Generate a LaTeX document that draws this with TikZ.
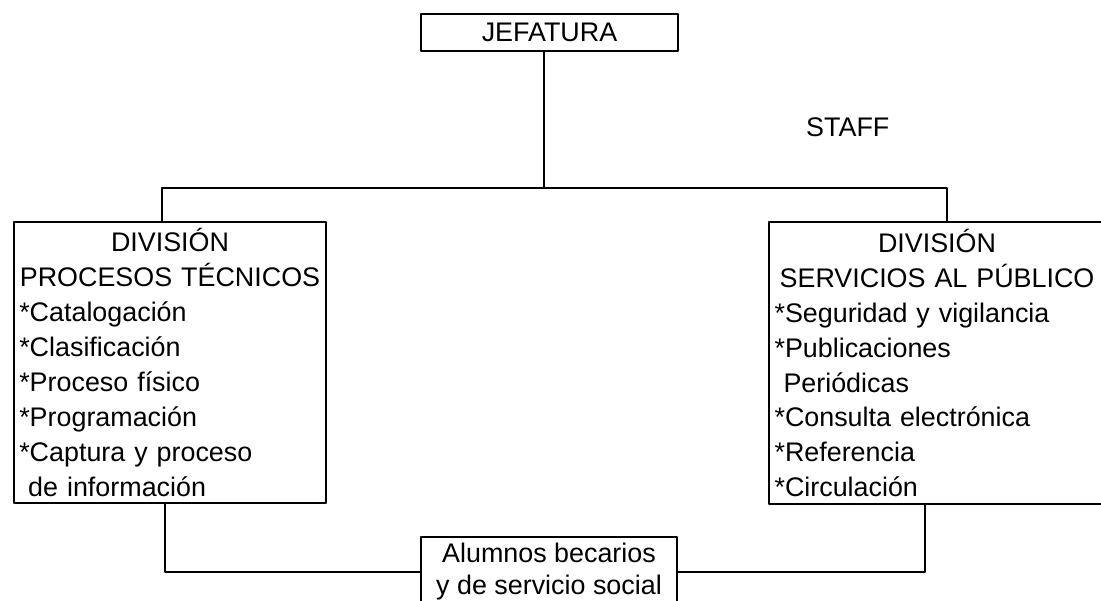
\documentclass[tikz,border=0pt]{standalone}
\usepackage{fontspec}
\setmainfont{Liberation Sans}
\begin{document}
\begin{tikzpicture}[x=0.02cm,y=-0.02cm,line join=round,
  font=\fontsize{15.3}{19.9}\selectfont,
  caja/.style={draw,line width=1.1pt,inner xsep=3pt,inner ysep=0pt},
  linea/.style={line width=0.6pt}]
 \useasboundingbox (0,0) rectangle (1101,600);
 % cajas
 \node[caja,minimum width=5.14cm,minimum height=0.74cm] (jef) at (549.5,32.5) {JEFATURA};
 \node[anchor=base west] (staff) at (800,136) {STAFF};
 \node[caja,text width=6.03cm,align=left,minimum height=5.62cm] (tec) at (170,362.5)
  {\makebox[\hsize]{DIVISIÓN}\\
   \makebox[\hsize]{PROCESOS TÉCNICOS}\\
   {*}Catalogación\\ {*}Clasificación\\ {*}Proceso físico\\ {*}Programación\\
   {*}Captura y proceso\\ \ de información};
 \node[caja,text width=6.5cm,align=left,minimum height=5.64cm] (ser) at (937,363)
  {\makebox[\hsize]{DIVISIÓN}\\
   \makebox[\hsize]{SERVICIOS AL PÚBLICO}\\
   {*}Seguridad y vigilancia\\ {*}Publicaciones\\ \ Periódicas\\
   {*}Consulta electrónica\\ {*}Referencia\\ {*}Circulación};
 \node[caja,minimum width=5.12cm,minimum height=1.4cm,align=center,
  font=\fontsize{15.3}{18.2}\selectfont] (bec) at (549,572) {Alumnos becarios\\y de servicio social};
 % lineas
 \coordinate (bus) at (544,188);
 \coordinate (izq) at (162,188);
 \coordinate (der) at (947,188);
 \coordinate (bajaI) at (165,572);
 \coordinate (bajaD) at (925,572);
 \draw[linea] (jef.south -| bus) -- (bus);
 \draw[linea] (izq |- tec.north) -- (izq) -- (der) -- (der |- ser.north);
 \draw[linea] (bajaI |- tec.south) -- (bajaI) -- (bec.west);
 \draw[linea] (bajaD |- ser.south) -- (bajaD) -- (bec.east);
\end{tikzpicture}
\end{document}
